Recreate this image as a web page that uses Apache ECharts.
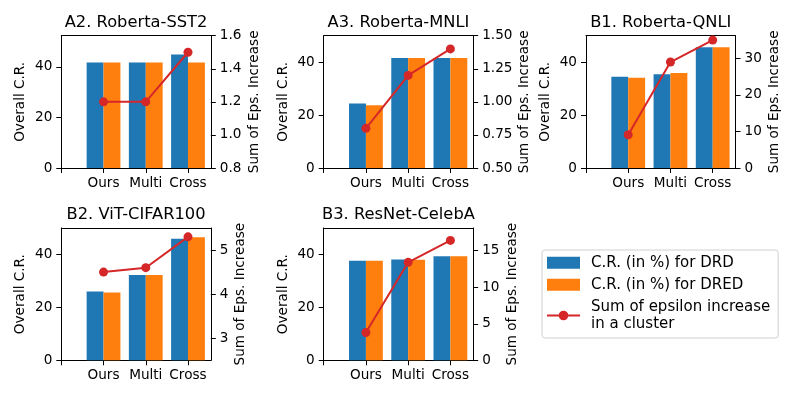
<!DOCTYPE html>
<html>
<head>
<meta charset="utf-8">
<script src="https://cdn.jsdelivr.net/npm/echarts@6/dist/echarts.min.js"></script>
<style>
  html, body { margin: 0; padding: 0; background: #fff; }
  #chart { width: 797px; height: 399px; }
</style>
</head>
<body>
<div id="chart"></div>
<script>
// x ticks: position 0 is an empty tick, methods sit at 1..3
const xTickLabels = ['', 'Ours', 'Multi', 'Cross'];
const crTicks = [0, 20, 40];

// A2. Roberta-SST2
const a2Drd = [41.7, 41.7, 44.9];
const a2Dred = [41.7, 41.7, 41.7];
const a2Eps = [1.2, 1.2, 1.5];
const a2EpsTicks = [0.8, 1.0, 1.2, 1.4, 1.6];

// A3. Roberta-MNLI
const a3Drd = [24.4, 41.7, 41.7];
const a3Dred = [23.8, 41.7, 41.7];
const a3Eps = [0.8, 1.2, 1.4];
const a3EpsTicks = [0.5, 0.75, 1.0, 1.25, 1.5];

// B1. Roberta-QNLI
const b1Drd = [34.6, 35.5, 45.7];
const b1Dred = [34.2, 36.0, 45.7];
const b1Eps = [9.1, 29.0, 35.0];
const b1EpsTicks = [0, 10, 20, 30];

// B2. ViT-CIFAR100
const b2Drd = [26.1, 32.3, 46.0];
const b2Dred = [25.7, 32.3, 46.6];
const b2Eps = [4.5, 4.6, 5.3];
const b2EpsTicks = [3, 4, 5];

// B3. ResNet-CelebA
const b3Drd = [37.7, 38.2, 39.4];
const b3Dred = [37.7, 38.1, 39.4];
const b3Eps = [3.8, 13.4, 16.4];
const b3EpsTicks = [0, 5, 10, 15];

const nameDrd = 'C.R. (in %) for DRD';
const nameDred = 'C.R. (in %) for DRED';
const nameEps = 'Sum of epsilon increase\nin a cluster';

const FONT = 'DejaVu Sans';
const BLUE = '#1f77b4', ORANGE = '#ff7f0e', RED = '#d62728';

const panels = [
  { title: 'A2. Roberta-SST2', drd: a2Drd, dred: a2Dred, eps: a2Eps, ticks: a2EpsTicks,
    left: 61.3, top: 35.7, crMax: 52.3, epsMin: 0.8, epsMax: 1.6, dec: 1, rGap: 37 },
  { title: 'A3. Roberta-MNLI', drd: a3Drd, dred: a3Dred, eps: a3Eps, ticks: a3EpsTicks,
    left: 323.7, top: 35.7, crMax: 50.1, epsMin: 0.5, epsMax: 1.5, dec: 2, rGap: 44.5 },
  { title: 'B1. Roberta-QNLI', drd: b1Drd, dred: b1Dred, eps: b1Eps, ticks: b1EpsTicks,
    left: 586, top: 35.7, crMax: 50.1, epsMin: 0, epsMax: 36.2, dec: 0, rGap: 32 },
  { title: 'B2. ViT-CIFAR100', drd: b2Drd, dred: b2Dred, eps: b2Eps, ticks: b2EpsTicks,
    left: 61.3, top: 228, crMax: 50.1, epsMin: 2.5, epsMax: 5.5, dec: 0, rGap: 23 },
  { title: 'B3. ResNet-CelebA', drd: b3Drd, dred: b3Dred, eps: b3Eps, ticks: b3EpsTicks,
    left: 323.7, top: 228, crMax: 50.1, epsMin: 0, epsMax: 18.1, dec: 0, rGap: 32 }
];

const W = 149.5, H = 132.3;
const axisLine = { show: true, onZero: false, lineStyle: { color: '#000', width: 1 } };
const tickStyle = { show: true, length: 5, lineStyle: { color: '#000', width: 1 } };
const labelText = { color: '#000', fontSize: 13.6, fontFamily: FONT };

const toPts = arr => arr.map((v, k) => [k + 1, v]);

const option = {
  animation: false,
  backgroundColor: '#fff',
  title: [], grid: [], xAxis: [], yAxis: [], series: [],
  legend: {
    orient: 'vertical', left: 542, top: 250,
    padding: [4, 8, 5, 4], itemWidth: 33, itemHeight: 12, itemGap: 4.5,
    borderColor: '#d0d0d0', borderWidth: 1, borderRadius: 3,
    backgroundColor: '#fff',
    textStyle: { color: '#000', fontSize: 15, lineHeight: 17.5, fontFamily: FONT, padding: [0, 0, 0, 6] },
    data: [{ name: nameDrd, icon: 'rect' }, { name: nameDred, icon: 'rect' }, { name: nameEps }]
  }
};

panels.forEach((p, i) => {
  option.title.push({
    text: p.title, left: p.left + W / 2, top: p.top - 21, textAlign: 'center', padding: 0,
    textStyle: { fontSize: 16.3, fontWeight: 'normal', color: '#000', fontFamily: FONT }
  });
  option.grid.push({ left: p.left, top: p.top, width: W, height: H });
  // bottom axis (index 2i) carries the bars; top axis (2i+1) only closes the frame
  option.xAxis.push({
    type: 'value', gridIndex: i, position: 'bottom', min: 0, max: 3.54,
    axisLine: axisLine, splitLine: { show: false },
    axisTick: Object.assign({ customValues: [0, 1, 2, 3] }, tickStyle),
    axisLabel: Object.assign({ customValues: [1, 2, 3], margin: 8, formatter: v => xTickLabels[Math.round(v)] }, labelText)
  });
  option.xAxis.push({
    type: 'value', gridIndex: i, position: 'top', min: 0, max: 3.54,
    axisLine: axisLine, splitLine: { show: false },
    axisTick: { show: false }, axisLabel: { show: false }
  });
  option.yAxis.push({
    type: 'value', gridIndex: i, position: 'left', min: 0, max: p.crMax,
    axisLine: axisLine, splitLine: { show: false },
    axisTick: Object.assign({ customValues: crTicks }, tickStyle),
    axisLabel: Object.assign({ customValues: crTicks, margin: 9 }, labelText),
    name: 'Overall C.R.', nameLocation: 'middle', nameRotate: 90, nameGap: 33.5,
    nameTextStyle: labelText
  });
  option.yAxis.push({
    type: 'value', gridIndex: i, position: 'right', min: p.epsMin, max: p.epsMax,
    axisLine: axisLine, splitLine: { show: false },
    axisTick: Object.assign({ customValues: p.ticks }, tickStyle),
    axisLabel: Object.assign({ customValues: p.ticks, margin: 9, formatter: v => v.toFixed(p.dec) }, labelText),
    name: 'Sum of Eps. Increase', nameLocation: 'middle', nameRotate: 90, nameGap: p.rGap,
    nameTextStyle: labelText
  });
  option.series.push({
    type: 'bar', name: nameDrd, xAxisIndex: 2 * i, yAxisIndex: 2 * i,
    data: toPts(p.drd), barWidth: '40%', barGap: '0%',
    itemStyle: { color: BLUE }
  });
  option.series.push({
    type: 'bar', name: nameDred, xAxisIndex: 2 * i, yAxisIndex: 2 * i,
    data: toPts(p.dred), barWidth: '40%', barGap: '0%',
    itemStyle: { color: ORANGE }
  });
  option.series.push({
    type: 'line', name: nameEps, xAxisIndex: 2 * i, yAxisIndex: 2 * i + 1,
    data: toPts(p.eps), symbol: 'circle', symbolSize: 9,
    lineStyle: { color: RED, width: 2 }, itemStyle: { color: RED }, z: 5
  });
});

const chart = echarts.init(document.getElementById('chart'));
chart.setOption(option);
</script>
</body>
</html>
